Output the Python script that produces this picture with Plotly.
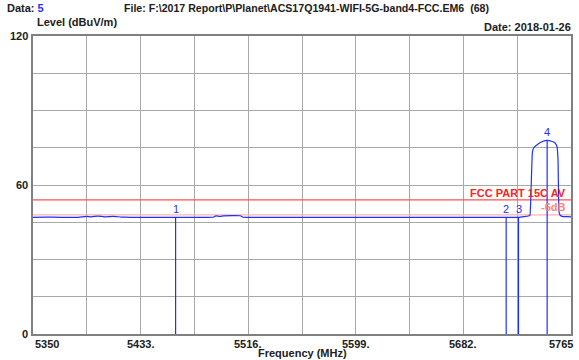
import plotly.graph_objects as go

# ---- data ----
freq_mhz = [5350, 5360, 5372, 5385, 5391, 5395, 5400, 5405, 5412, 5418, 5425, 5440, 5459, 5460,
            5461, 5475, 5489, 5491, 5494, 5497, 5510, 5512, 5530, 5560, 5600, 5640, 5680, 5700,
            5712, 5715, 5718, 5724.5, 5729, 5732, 5733.3, 5734.3, 5735.2, 5736.3, 5739.6, 5743,
            5746.6, 5750, 5752.5, 5754.2, 5755.0, 5755.8, 5757, 5758.8, 5762, 5765]
level_dbuv = [47.0, 47.1, 47.0, 47.0, 47.4, 47.2, 47.5, 47.2, 47.4, 47.1, 47.0, 47.0, 47.0, 47.0,
              47.0, 47.0, 47.0, 47.6, 47.3, 47.6, 47.6, 47.0, 47.0, 47.0, 47.0, 47.0, 47.0, 47.0,
              47.0, 47.0, 47.0, 47.0, 47.3, 47.5, 47.8, 60.0, 73.0, 75.0, 76.5, 77.5,
              78.0, 77.6, 77.0, 75.5, 70.0, 49.0, 47.6, 47.3, 47.3, 47.2]

marker_ids = ["1", "2", "3", "4"]
marker_freq = [5460.0, 5715.0, 5724.5, 5746.6]
marker_level = [47.0, 47.0, 47.0, 78.0]

limit_av = 54.0
limit_margin = 48.0  # limit - 6 dB

x_ticks = [5350, 5433, 5516, 5599, 5682, 5765]
x_tick_text = ["5350", "5433.", "5516.", "5599.", "5682.", "5765"]
x_min, x_max = 5350, 5765
x_grid_step = 41.5
y_ticks = [0, 60, 120]
y_tick_text = ["0", "60", "120"]
y_grid_step = 15

FONT = "Arial, 'Liberation Sans', sans-serif"
BLUE = "#1f2fff"

fig = go.Figure()

# limit lines
fig.add_trace(go.Scatter(x=[x_min, x_max], y=[limit_av, limit_av], mode="lines",
                         line=dict(color="#ff5050", width=1.3), hoverinfo="skip"))
fig.add_trace(go.Scatter(x=[x_min, x_max], y=[limit_margin, limit_margin], mode="lines",
                         line=dict(color="#ffb0b0", width=1.3), hoverinfo="skip"))

# trace
fig.add_trace(go.Scatter(x=freq_mhz, y=level_dbuv, mode="lines",
                         line=dict(color=BLUE, width=1.2, shape="spline", smoothing=0.3),
                         hoverinfo="skip"))

# marker lines
for mid, mf, ml in zip(marker_ids, marker_freq, marker_level):
    fig.add_trace(go.Scatter(x=[mf, mf], y=[0, ml], mode="lines",
                             line=dict(color=BLUE, width=1.2), hoverinfo="skip"))
    fig.add_annotation(x=mf, y=ml, text=mid, showarrow=False, yanchor="bottom",
                       yshift=0, font=dict(family=FONT, size=11, color=BLUE))

# limit labels
fig.add_annotation(x=x_max, y=limit_av, xref="x", yref="y", text="<b>FCC PART 15C AV</b>",
                   showarrow=False, xanchor="right", yanchor="bottom", xshift=-3, yshift=-1,
                   font=dict(family=FONT, size=11, color="#ff2020"))
fig.add_annotation(x=x_max, y=limit_margin, xref="x", yref="y", text="<b>-6dB</b>",
                   showarrow=False, xanchor="right", yanchor="bottom", xshift=-3, yshift=0,
                   font=dict(family=FONT, size=11, color="#ff8080"))

# x tick labels
for i, (tv, tt) in enumerate(zip(x_ticks, x_tick_text)):
    anchor = "left" if i == 0 else ("right" if i == len(x_ticks) - 1 else "center")
    shift = 4 if i == len(x_ticks) - 1 else 0
    fig.add_annotation(x=tv, y=0, xref="x", yref="paper", text="<b>" + tt + "</b>",
                       showarrow=False, xanchor=anchor, yanchor="top", yshift=-2, xshift=shift,
                       font=dict(family=FONT, size=11, color="#202020"))
# y tick labels
for tv, tt in zip(y_ticks, y_tick_text):
    fig.add_annotation(x=0, y=tv, xref="paper", yref="y", text="<b>" + tt + "</b>",
                       showarrow=False, xanchor="right", yanchor="middle", xshift=-3,
                       font=dict(family=FONT, size=11, color="#202020"))

# header texts
hdr = dict(showarrow=False, font=dict(family=FONT, size=11, color="#202020"))
fig.add_annotation(xref="paper", yref="paper", x=-33/540 + 5/540, y=1 + (36 - 8) / 298,
                   xanchor="left", yanchor="middle",
                   text="<b>Data: <span style='color:#1f2fff'>5</span></b>", **hdr)
fig.add_annotation(xref="paper", yref="paper", x=(122 - 33) / 540, y=1 + (36 - 8) / 298,
                   xanchor="left", yanchor="middle", showarrow=False,
                   font=dict(family=FONT, size=10.6, color="#202020"),
                   text="<b>File: F:\\2017 Report\\P\\Planet\\ACS17Q1941-WIFI-5G-band4-FCC.EM6  (68)</b>")
fig.add_annotation(xref="paper", yref="paper", x=(35 - 33) / 540, y=1 + (36 - 22) / 298,
                   xanchor="left", yanchor="middle", text="<b>Level (dBuV/m)</b>", **hdr)
fig.add_annotation(xref="paper", yref="paper", x=(575 - 33) / 540, y=1 + (36 - 27) / 298,
                   xanchor="right", yanchor="middle", text="<b>Date: 2018-01-26</b>", **hdr)
fig.add_annotation(xref="paper", yref="paper", x=(303 - 33) / 540, y=-(353 - 334) / 298,
                   xanchor="center", yanchor="middle", text="<b>Frequency (MHz)</b>", **hdr)

fig.update_layout(
    width=579, height=360,
    margin=dict(l=33, r=6, t=36, b=26),
    paper_bgcolor="white", plot_bgcolor="white",
    showlegend=False,
    xaxis=dict(range=[x_min, x_max], tick0=x_min, dtick=x_grid_step, showticklabels=False,
               ticks="", showgrid=True, gridcolor="#a8a8a8", gridwidth=1,
               showline=True, linecolor="#808080", linewidth=2, mirror=True, zeroline=False,
               fixedrange=True),
    yaxis=dict(range=[0, 120], tick0=0, dtick=y_grid_step, showticklabels=False,
               ticks="", showgrid=True, gridcolor="#a8a8a8", gridwidth=1,
               showline=True, linecolor="#808080", linewidth=2, mirror=True, zeroline=False,
               fixedrange=True),
)

fig.write_html("out.html", config={"displayModeBar": False},
               post_script="document.body.style.margin='0px';document.body.style.overflow='hidden';")
